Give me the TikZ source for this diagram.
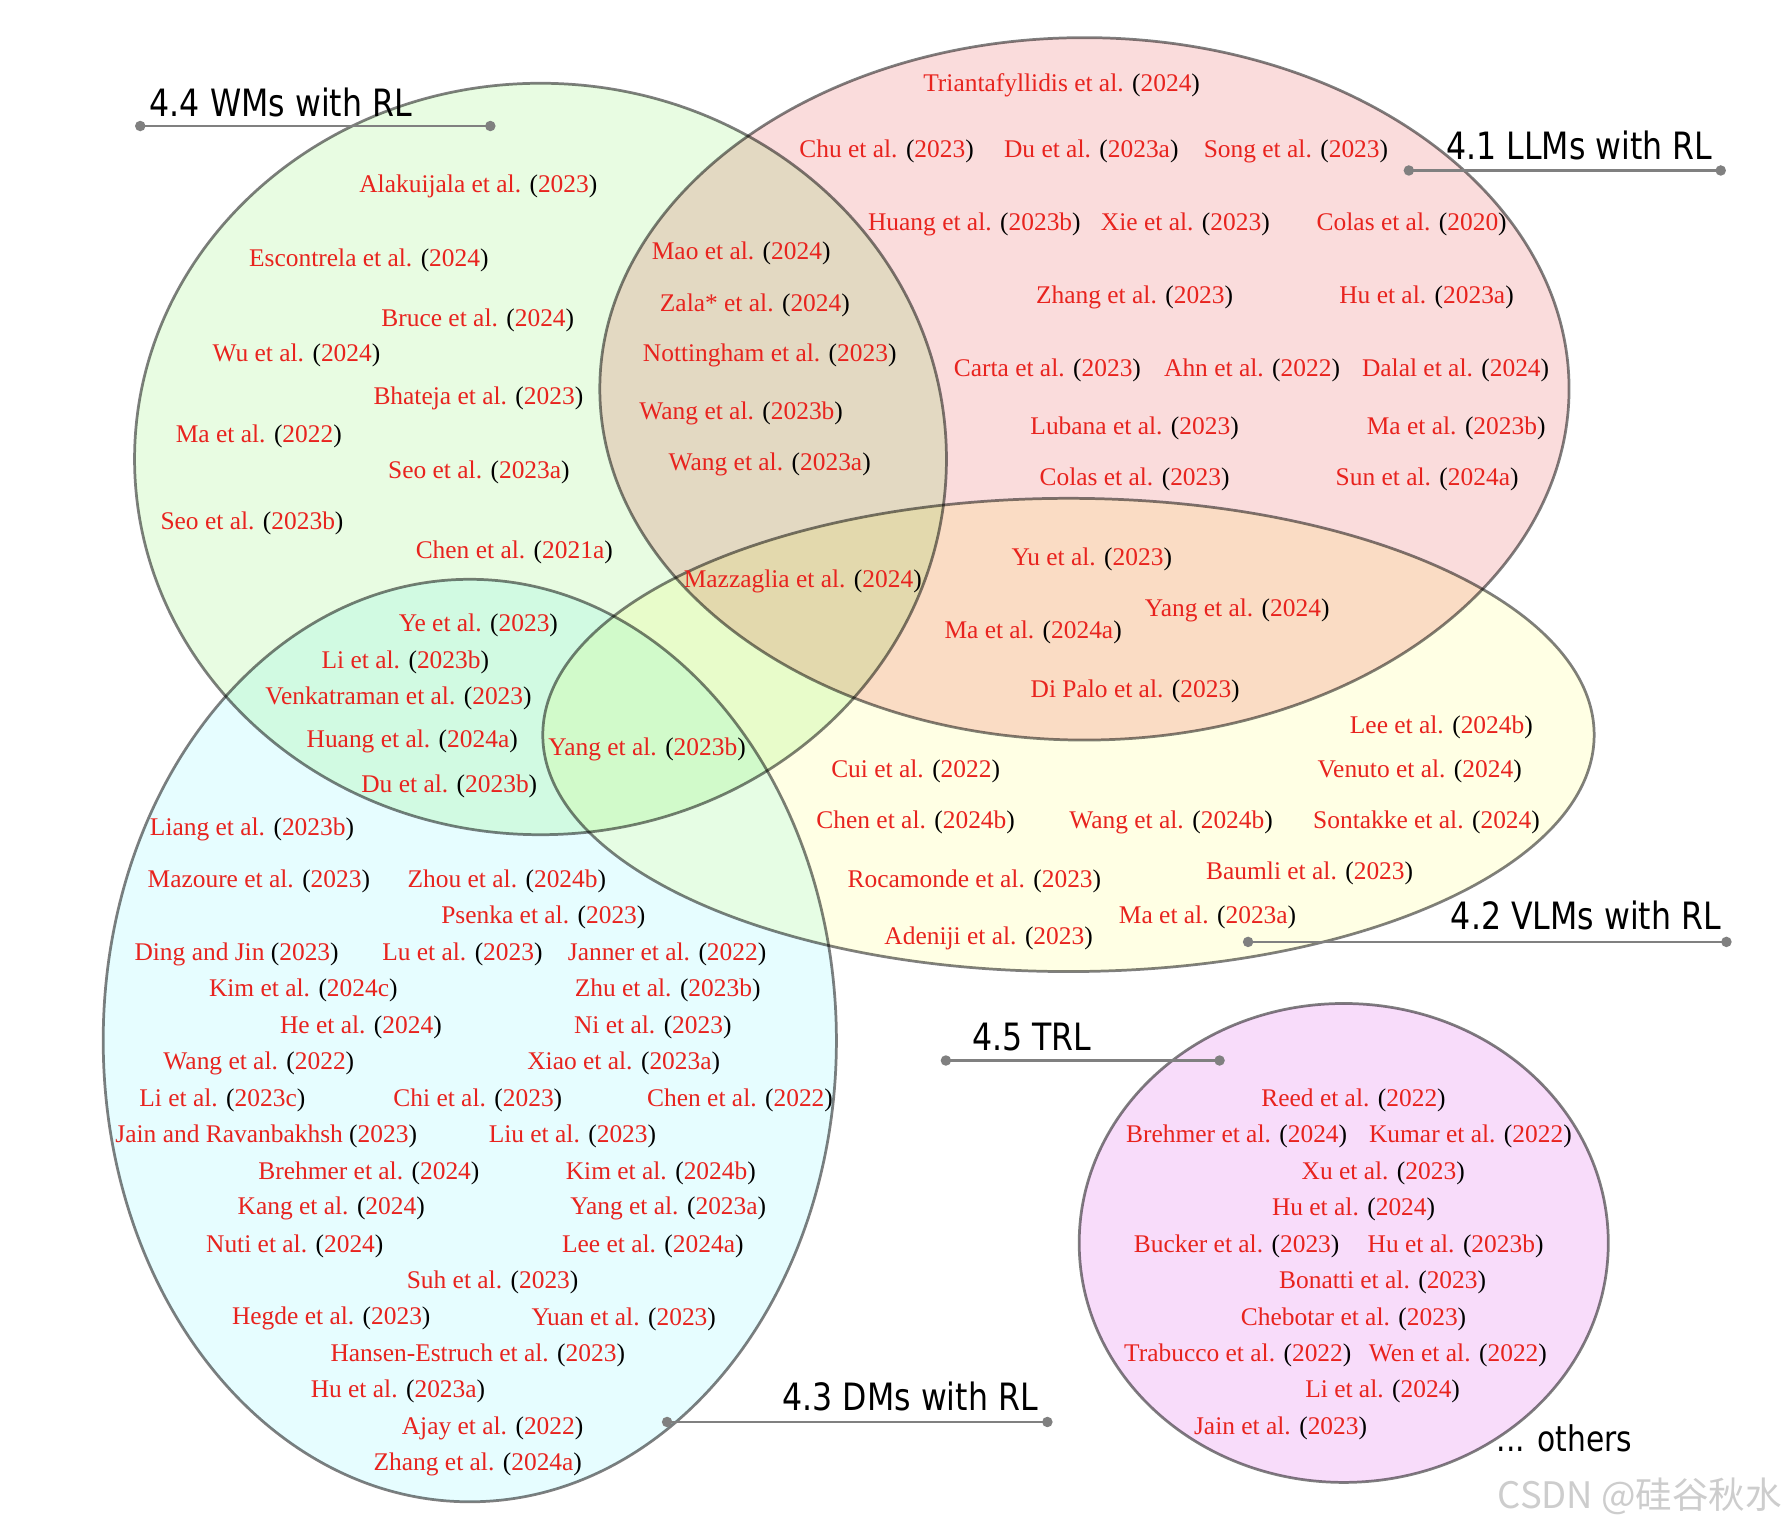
\documentclass[tikz,border=0pt]{standalone}
\usepackage{fontspec}
\setmainfont{Liberation Serif}
\newfontfamily\lblfont{DejaVu Sans}[FakeStretch=0.84]
\newfontfamily\cjkfont{Noto Sans CJK SC}
\definecolor{citered}{RGB}{232,35,30}
\definecolor{linegray}{RGB}{128,128,128}
\definecolor{wmfill}{RGB}{232,252,226}
\definecolor{llmfill}{RGB}{250,220,220}
\definecolor{vlmfill}{RGB}{255,255,228}
\definecolor{dmfill}{RGB}{230,253,255}
\definecolor{trlfill}{RGB}{248,220,250}
\definecolor{wmark}{RGB}{205,205,205}
\newcommand\rc[2]{\textcolor{citered}{#1} (\textcolor{citered}{#2})}
\tikzset{
  ref/.style={inner sep=0pt, anchor=center, yshift=-1.3pt, font=\fontsize{11.15}{13}\selectfont},
  sect/.style={anchor=base west, inner sep=0pt, font=\lblfont\fontsize{16.5}{19}\selectfont},
  conn/.style={draw=linegray, line width=1pt},
  enddot/.style={circle, fill=linegray, inner sep=0pt, minimum size=4.6pt},
  vennfill/.style={blend mode=multiply},
  vennline/.style={draw=black, draw opacity=0.5, line width=1.2pt}
}
\begin{document}
\begin{tikzpicture}[x=0.5pt,y=-0.5pt]
\useasboundingbox (0,0) rectangle (1568,1340);
\fill[white] (0,0) rectangle (1568,1340);

% fills
\fill[wmfill,vennfill]  (474,402.5) ellipse [x radius=356, y radius=329.5];
\fill[llmfill,vennfill] (951,341) ellipse [x radius=425, y radius=308];
\fill[vlmfill,vennfill] (937,644.5) ellipse [x radius=461, y radius=207.5];
\fill[dmfill,vennfill]  (412,912.5) ellipse [x radius=321.5, y radius=404.5];
\fill[trlfill,vennfill] (1178.4,1090) ellipse [x radius=232, y radius=210];

% outlines
\draw[vennline] (474,402.5) ellipse [x radius=356, y radius=329.5];
\draw[vennline] (951,341) ellipse [x radius=425, y radius=308];
\draw[vennline] (937,644.5) ellipse [x radius=461, y radius=207.5];
\draw[vennline] (412,912.5) ellipse [x radius=321.5, y radius=404.5];
\draw[vennline] (1178.4,1090) ellipse [x radius=232, y radius=210];

% WM region
\node[ref] (g1) at (419.5,161) {\rc{Alakuijala et al.}{2023}};
\node[ref] (g2) at (323.5,226) {\rc{Escontrela et al.}{2024}};
\node[ref] (g3) at (419,278) {\rc{Bruce et al.}{2024}};
\node[ref] (g4) at (260,309) {\rc{Wu et al.}{2024}};
\node[ref] (g5) at (419.5,347) {\rc{Bhateja et al.}{2023}};
\node[ref] (g6) at (227,380) {\rc{Ma et al.}{2022}};
\node[ref] (g7) at (420,412) {\rc{Seo et al.}{2023a}};
\node[ref] (g8) at (221,456) {\rc{Seo et al.}{2023b}};
\node[ref] (g9) at (451,482) {\rc{Chen et al.}{2021a}};

% WM & LLM
\node[ref] (gp1) at (650,220) {\rc{Mao et al.}{2024}};
\node[ref] (gp2) at (662,265) {\rc{Zala* et al.}{2024}};
\node[ref] (gp3) at (675,309) {\rc{Nottingham et al.}{2023}};
\node[ref] (gp4) at (650,360) {\rc{Wang et al.}{2023b}};
\node[ref] (gp5) at (675,405) {\rc{Wang et al.}{2023a}};

% LLM
\node[ref] (p1) at (931,72) {\rc{Triantafyllidis et al.}{2024}};
\node[ref] (p2) at (777.5,130) {\rc{Chu et al.}{2023}};
\node[ref] (p3) at (957,130) {\rc{Du et al.}{2023a}};
\node[ref] (p4) at (1136.5,130) {\rc{Song et al.}{2023}};
\node[ref] (p5) at (854.5,194) {\rc{Huang et al.}{2023b}};
\node[ref] (p6) at (1039.5,194) {\rc{Xie et al.}{2023}};
\node[ref] (p7) at (1238,194) {\rc{Colas et al.}{2020}};
\node[ref] (p8) at (995,258) {\rc{Zhang et al.}{2023}};
\node[ref] (p9) at (1251,258) {\rc{Hu et al.}{2023a}};
\node[ref] (p10) at (918.5,322) {\rc{Carta et al.}{2023}};
\node[ref] (p11) at (1098,322) {\rc{Ahn et al.}{2022}};
\node[ref] (p12) at (1276.5,322) {\rc{Dalal et al.}{2024}};
\node[ref] (p13) at (995,373) {\rc{Lubana et al.}{2023}};
\node[ref] (p14) at (1277,373) {\rc{Ma et al.}{2023b}};
\node[ref] (p15) at (995,418) {\rc{Colas et al.}{2023}};
\node[ref] (p16) at (1251.5,418) {\rc{Sun et al.}{2024a}};

% WM & LLM & VLM
\node[ref] (gpy1) at (704,507) {\rc{Mazzaglia et al.}{2024}};

% LLM & VLM
\node[ref] (py1) at (957.5,488) {\rc{Yu et al.}{2023}};
\node[ref] (py2) at (1085,533) {\rc{Yang et al.}{2024}};
\node[ref] (py3) at (906,552) {\rc{Ma et al.}{2024a}};
\node[ref] (py4) at (995.5,604) {\rc{Di Palo et al.}{2023}};

% WM & DM
\node[ref] (gc1) at (419.5,546) {\rc{Ye et al.}{2023}};
\node[ref] (gc2) at (355.5,578) {\rc{Li et al.}{2023b}};
\node[ref] (gc3) at (349.5,610) {\rc{Venkatraman et al.}{2023}};
\node[ref] (gc4) at (361.5,648) {\rc{Huang et al.}{2024a}};
\node[ref] (gc5) at (394,687) {\rc{Du et al.}{2023b}};

% WM & DM & VLM
\node[ref] (gcy1) at (567.5,655) {\rc{Yang et al.}{2023b}};

% VLM
\node[ref] (y1) at (1264,635) {\rc{Lee et al.}{2024b}};
\node[ref] (y2) at (803,674) {\rc{Cui et al.}{2022}};
\node[ref] (y3) at (1245,674) {\rc{Venuto et al.}{2024}};
\node[ref] (y4) at (803,719) {\rc{Chen et al.}{2024b}};
\node[ref] (y5) at (1027,719) {\rc{Wang et al.}{2024b}};
\node[ref] (y6) at (1251,719) {\rc{Sontakke et al.}{2024}};
\node[ref] (y7) at (854.5,770) {\rc{Rocamonde et al.}{2023}};
\node[ref] (y8) at (1148.5,763) {\rc{Baumli et al.}{2023}};
\node[ref] (y9) at (1059,802) {\rc{Ma et al.}{2023a}};
\node[ref] (y10) at (867,820) {\rc{Adeniji et al.}{2023}};

% DM
\node[ref] (c1) at (221,725) {\rc{Liang et al.}{2023b}};
\node[ref] (c2) at (227,770) {\rc{Mazoure et al.}{2023}};
\node[ref] (c3) at (444.5,770) {\rc{Zhou et al.}{2024b}};
\node[ref] (c4) at (476.5,802) {\rc{Psenka et al.}{2023}};
\node[ref] (c5) at (207.5,834) {\rc{Ding and Jin}{2023}};
\node[ref] (c6) at (405.5,834) {\rc{Lu et al.}{2023}};
\node[ref] (c7) at (585,834) {\rc{Janner et al.}{2022}};
\node[ref] (c8) at (266,866) {\rc{Kim et al.}{2024c}};
\node[ref] (c9) at (585.5,866) {\rc{Zhu et al.}{2023b}};
\node[ref] (c10) at (316.5,898) {\rc{He et al.}{2024}};
\node[ref] (c11) at (572.5,898) {\rc{Ni et al.}{2023}};
\node[ref] (c12) at (227,930) {\rc{Wang et al.}{2022}};
\node[ref] (c13) at (547,930) {\rc{Xiao et al.}{2023a}};
\node[ref] (c14) at (195,962) {\rc{Li et al.}{2023c}};
\node[ref] (c15) at (419,962) {\rc{Chi et al.}{2023}};
\node[ref] (c16) at (649,962) {\rc{Chen et al.}{2022}};
\node[ref] (c17) at (233.5,994) {\rc{Jain and Ravanbakhsh}{2023}};
\node[ref] (c18) at (502,994) {\rc{Liu et al.}{2023}};
\node[ref] (c19) at (323.5,1026) {\rc{Brehmer et al.}{2024}};
\node[ref] (c20) at (579.5,1026) {\rc{Kim et al.}{2024b}};
\node[ref] (c21) at (290.5,1057) {\rc{Kang et al.}{2024}};
\node[ref] (c22) at (586,1057) {\rc{Yang et al.}{2023a}};
\node[ref] (c23) at (258.5,1090) {\rc{Nuti et al.}{2024}};
\node[ref] (c24) at (572.5,1090) {\rc{Lee et al.}{2024a}};
\node[ref] (c25) at (432,1122) {\rc{Suh et al.}{2023}};
\node[ref] (c26) at (290.5,1154) {\rc{Hegde et al.}{2023}};
\node[ref] (c27) at (547,1154) {\rc{Yuan et al.}{2023}};
\node[ref] (c28) at (419,1186) {\rc{Hansen-Estruch et al.}{2023}};
\node[ref] (c29) at (349,1218) {\rc{Hu et al.}{2023a}};
\node[ref] (c30) at (432,1250) {\rc{Ajay et al.}{2022}};
\node[ref] (c31) at (419,1282) {\rc{Zhang et al.}{2024a}};

% TRL
\node[ref] (t1) at (1187,962) {\rc{Reed et al.}{2022}};
\node[ref] (t2) at (1084.5,994) {\rc{Brehmer et al.}{2024}};
\node[ref] (t3) at (1289.5,994) {\rc{Kumar et al.}{2022}};
\node[ref] (t4) at (1213,1026) {\rc{Xu et al.}{2023}};
\node[ref] (t5) at (1187,1058) {\rc{Hu et al.}{2024}};
\node[ref] (t6) at (1084.5,1090) {\rc{Bucker et al.}{2023}};
\node[ref] (t7) at (1276.5,1090) {\rc{Hu et al.}{2023b}};
\node[ref] (t8) at (1212.5,1122) {\rc{Bonatti et al.}{2023}};
\node[ref] (t9) at (1187,1154) {\rc{Chebotar et al.}{2023}};
\node[ref] (t10) at (1085.5,1186) {\rc{Trabucco et al.}{2022}};
\node[ref] (t11) at (1278.5,1186) {\rc{Wen et al.}{2022}};
\node[ref] (t12) at (1212.5,1218) {\rc{Li et al.}{2024}};
\node[ref] (t13) at (1123,1250) {\rc{Jain et al.}{2023}};

% section labels with connectors
\node[enddot] (wmA) at (123,110.5) {};
\node[enddot] (wmB) at (430,110.5) {};
\draw[conn] (wmA.center) -- (wmB.center);
\node[sect] (wmL) at (131,102) {4.4 WMs with RL};

\node[enddot] (llmA) at (1235.5,149.5) {};
\node[enddot] (llmB) at (1509,149.5) {};
\draw[conn] (llmA.center) -- (llmB.center);
\node[sect] (llmL) at (1268,140) {4.1 LLMs with RL};

\node[enddot] (vlmA) at (1094.5,826) {};
\node[enddot] (vlmB) at (1514,826) {};
\draw[conn] (vlmA.center) -- (vlmB.center);
\node[sect] (vlmL) at (1272,815.5) {4.2 VLMs with RL};

\node[enddot] (trlA) at (829.5,930) {};
\node[enddot] (trlB) at (1069.5,930) {};
\draw[conn] (trlA.center) -- (trlB.center);
\node[sect] (trlL) at (852,921) {4.5 TRL};

\node[enddot] (dmA) at (585,1247) {};
\node[enddot] (dmB) at (918.5,1247) {};
\draw[conn] (dmA.center) -- (dmB.center);
\node[sect] (dmL) at (686,1237) {4.3 DMs with RL};

\node[sect, font=\lblfont\fontsize{15.5}{18}\selectfont] (others) at (1312,1273) {... others};

\node[anchor=base east, inner sep=0pt, text=wmark, font=\cjkfont\fontsize{16}{19}\selectfont] (wm) at (1563,1323) {CSDN @硅谷秋水};
\end{tikzpicture}
\end{document}
